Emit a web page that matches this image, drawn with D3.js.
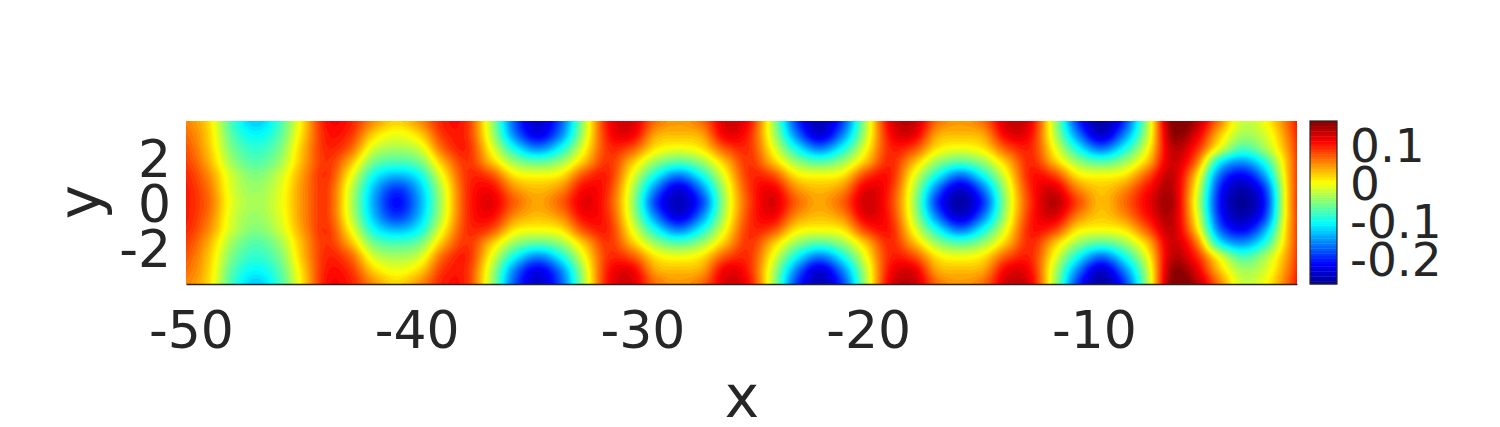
<!DOCTYPE html>
<html><head><meta charset="utf-8">
<script src="https://cdn.jsdelivr.net/npm/d3@7"></script>
<style>html,body{margin:0;padding:0;background:#fff}svg{display:block}text{font-family:"DejaVu Sans";fill:#262626}</style>
</head><body><svg id="c" width="1500" height="427"></svg>
<script>
// Values. Each line: one column, rows y = 0, .6, 1.2, 1.8, 2.4, 3, 3.6 (mirrored for y<0)
const yRows = [0, 0.6, 1.2, 1.8, 2.4, 3.0, 3.6];
const columnStart = -50.24, columnStep = 1.04;
const field = [
[.10,.10,.095,.085,.075,.065,.055],
[.065,.06,.05,.035,.025,.02,.015],
[-.01,-.015,-.02,-.04,-.055,-.07,-.08],
[-.035,-.04,-.05,-.07,-.085,-.105,-.125],
[-.008,-.012,-.02,-.04,-.055,-.07,-.08],
[.05,.05,.045,.035,.03,.02,.015],
[.085,.085,.09,.09,.095,.10,.105],
[-.02,-.015,.005,.035,.07,.09,.10],
[-.14,-.13,-.10,-.055,-.015,.02,.05],
[-.21,-.19,-.135,-.075,-.035,-.005,.02],
[-.14,-.13,-.10,-.055,-.015,.02,.05],
[-.02,-.015,.005,.035,.07,.09,.10],
[.09,.09,.09,.09,.095,.09,.09],
[.12,.11,.08,.03,0,-.022,-.03],
[.07,.05,.012,-.04,-.10,-.155,-.175],
[.04,.03,0,-.065,-.155,-.22,-.235],
[.07,.05,.012,-.04,-.10,-.155,-.175],
[.12,.11,.08,.03,0,-.022,-.03],
[.085,.09,.095,.09,.09,.10,.105],
[-.03,-.022,0,.03,.075,.115,.125],
[-.185,-.155,-.10,-.04,.012,.04,.065],
[-.245,-.228,-.16,-.07,-.005,.03,.045],
[-.185,-.155,-.10,-.04,.012,.04,.065],
[-.03,-.022,0,.03,.075,.115,.125],
[.08,.085,.09,.09,.09,.095,.105],
[.125,.115,.08,.03,0,-.022,-.03],
[.07,.05,.012,-.04,-.10,-.155,-.185],
[.04,.03,0,-.07,-.16,-.23,-.245],
[.07,.05,.012,-.04,-.10,-.155,-.185],
[.13,.12,.085,.03,0,-.022,-.03],
[.09,.095,.10,.095,.095,.105,.115],
[-.03,-.022,0,.035,.08,.12,.135],
[-.19,-.16,-.10,-.04,.012,.04,.065],
[-.255,-.235,-.165,-.07,-.005,.03,.045],
[-.19,-.16,-.10,-.04,.012,.04,.065],
[-.03,-.022,0,.03,.075,.115,.13],
[.09,.095,.10,.095,.095,.105,.115],
[.14,.125,.085,.03,0,-.022,-.03],
[.08,.055,.012,-.04,-.10,-.155,-.19],
[.03,.025,0,-.07,-.165,-.235,-.255],
[.065,.05,.012,-.04,-.10,-.155,-.19],
[.115,.105,.075,.03,0,-.022,-.03],
[.145,.14,.135,.13,.135,.15,.16],
[0,.01,.03,.07,.10,.125,.145],
[-.20,-.19,-.16,-.10,-.005,.03,.06],
[-.262,-.25,-.215,-.15,-.075,-.035,-.02],
[-.20,-.185,-.14,-.09,-.035,-.015,0],
[.03,.03,.035,.04,.05,.06,.07],
[.15,.15,.15,.15,.15,.15,.15]
];
const xTicks = [-50,-40,-30,-20,-10];
const yTicks = [-2,0,2];
const barTicks = [0.1,0,-0.1,-0.2];
const vMin = -0.266, vMax = 0.164, nLevels = 64;

const ink = "#262626";
const svg = d3.select("#c");
const x = d3.scaleLinear().domain([-50.22,-1]).range([186,1297]);
const y = d3.scaleLinear().domain([-3.62,3.62]).range([284,121]);
const jet = d3.scaleLinear().domain([0,.125,.375,.625,.875,1])
  .range(["rgb(0,0,143)","rgb(0,0,255)","rgb(0,255,255)","rgb(255,255,0)","rgb(255,0,0)","rgb(128,0,0)"])
  .interpolate(d3.interpolateRgb);
const levelV = d3.scaleLinear().domain([0,nLevels]).range([vMin,vMax]);

// smooth resampling of the read grid for contour fill
const gridCol = i => field[Math.max(0,Math.min(field.length-1,i))];
const gridAt = (i,j)=>{ const J=Math.max(0,Math.min(12,j)); const r=Math.abs(J-6); return gridCol(i)[r]; };
const cr=(a,b,c,d,t)=>b+0.5*t*(c-a+t*(2*a-5*b+4*c-d+t*(3*(b-c)+d-a)));
const sample=(u,v)=>{
  const i=Math.floor(u), j=Math.floor(v), s=u-i, t=v-j, col=[];
  for(let m=-1;m<=2;m++) col.push(cr(gridAt(i-1,j+m),gridAt(i,j+m),gridAt(i+1,j+m),gridAt(i+2,j+m),s));
  return cr(col[0],col[1],col[2],col[3],t);
};
const upX=6, upY=8, padX=1, padY=1;
const nx=(field.length-1+2*padX)*upX+1, ny=(12+2*padY)*upY+1;
const vals=new Float64Array(nx*ny);
for(let b=0;b<ny;b++)for(let a=0;a<nx;a++) vals[a+b*nx]=sample(a/upX-padX,b/upY-padY);
const thresholds=d3.range(nLevels).map(levelV);
thresholds[0]=-10;
const contours=d3.contours().size([nx,ny]).thresholds(thresholds)(vals);
const rowStep=0.6;
const tf=d3.geoTransform({point(px,py){
  const gx=columnStart+((px-.5)/upX-padX)*columnStep;
  const gy=-3.6+((py-.5)/upY-padY)*rowStep;
  this.stream.point(x(gx),y(gy));
}});
const path=d3.geoPath(tf);
svg.append("clipPath").attr("id","plot").append("rect")
  .attr("x",x.range()[0]).attr("y",y.range()[1]).attr("width",x.range()[1]-x.range()[0]).attr("height",y.range()[0]-y.range()[1]);
svg.append("g").attr("clip-path","url(#plot)").selectAll("path").data(contours).join("path")
  .attr("d",path).attr("fill",(d,i)=>jet((i+.5)/nLevels)).attr("stroke",(d,i)=>jet((i+.5)/nLevels)).attr("stroke-width",.4);

// x axis
const gx=svg.append("g").attr("transform",`translate(0,${y.range()[0]})`)
  .call(d3.axisBottom(x).tickValues(xTicks).tickSize(0).tickPadding(0).tickFormat(d3.format("d")));
gx.select(".domain").attr("stroke",ink).attr("stroke-width",1.4);
gx.selectAll("text").attr("font-size",52).attr("font-family","DejaVu Sans").attr("dy",null).attr("y",64).style("fill",ink).text(d=>String(d));
// y axis
const gy=svg.append("g").attr("transform",`translate(${x.range()[0]},0)`)
  .call(d3.axisLeft(y).tickValues(yTicks).tickSize(0).tickPadding(0).tickFormat(d3.format("d")));
gy.select(".domain").remove();
gy.selectAll("text").attr("font-size",52).attr("font-family","DejaVu Sans").attr("x",-15).attr("dy",null).attr("y",19).style("fill",ink).text(d=>String(d));
svg.append("text").attr("x",742).attr("y",417).attr("text-anchor","middle").attr("font-size",58).text("x");
svg.append("text").attr("transform","translate(100,202) rotate(-90)").attr("text-anchor","middle").attr("font-size",58).text("y");

// colour bar
const bx0=1310, bx1=1337;
const barY=d3.scaleLinear().domain([vMin,vMax]).range([284,121]);
svg.append("g").selectAll("rect").data(d3.range(nLevels)).join("rect")
  .attr("x",bx0).attr("width",bx1-bx0)
  .attr("y",i=>barY(levelV(i+1))).attr("height",i=>barY(levelV(i))-barY(levelV(i+1))+.4)
  .attr("fill",i=>jet((i+.5)/nLevels));
svg.append("rect").attr("x",bx0).attr("y",121).attr("width",bx1-bx0).attr("height",163).attr("fill","none").attr("stroke",ink).attr("stroke-width",1.2);
svg.append("g").selectAll("text").data(barTicks).join("text")
  .attr("x",1350).attr("y",d=>barY(d)+17).attr("font-size",47).text(d=>String(d));
</script></body></html>
